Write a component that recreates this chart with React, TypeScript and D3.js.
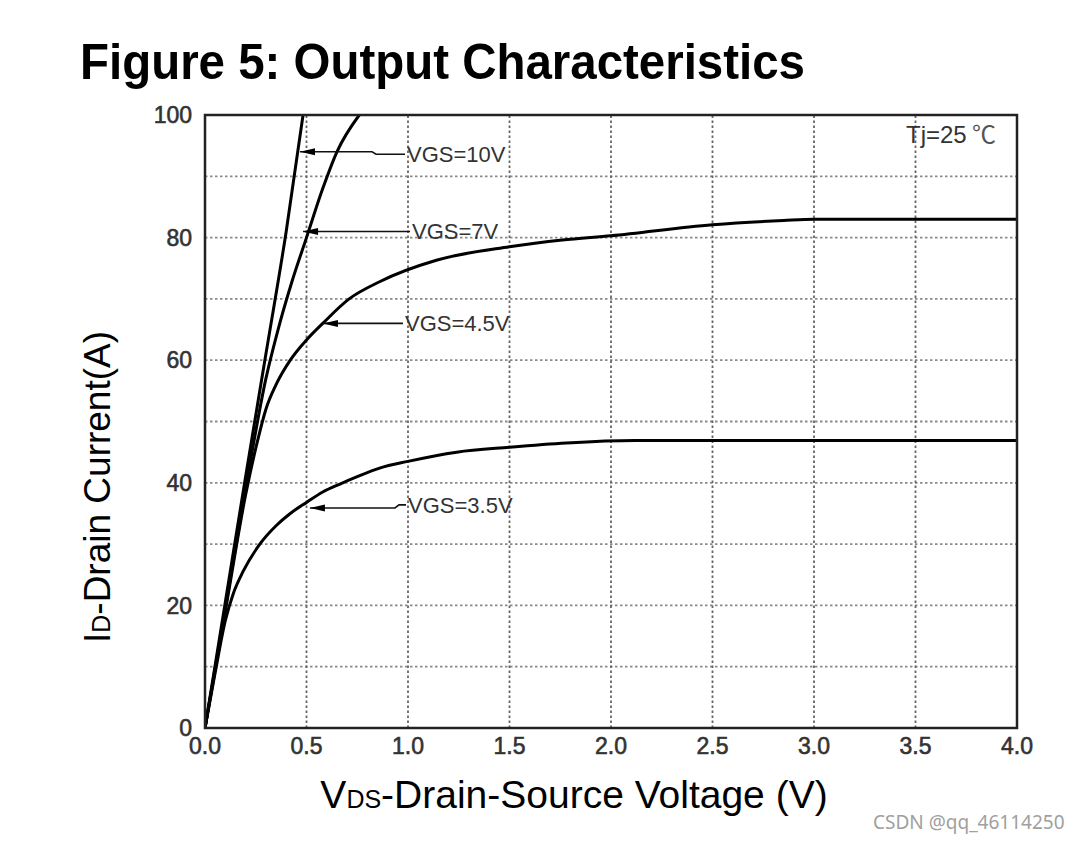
import { useEffect } from "react"
import * as d3 from "d3"

// Drain current (A) vs drain-source voltage (V)
const vgs10V = [0, 0.1, 0.2, 0.3, 0.4, 0.483]
const vgs10I = [0, 20.5, 41, 61, 81, 100]

const vgs7V = [0, 0.1, 0.2, 0.3, 0.36, 0.43, 0.5, 0.58, 0.65, 0.76]
const vgs7I = [0, 19.5, 39, 57, 65, 73, 80, 88, 94, 100]

const vgs45V = [0, 0.1, 0.2, 0.26, 0.3, 0.35, 0.42, 0.5, 0.58, 0.71, 0.86, 1.14, 1.5, 1.76, 2.0, 2.5, 2.85, 3.0, 4.0]
const vgs45I = [0, 19, 38, 47, 52, 56, 60, 63.3, 66, 70, 72.8, 76.3, 78.5, 79.6, 80.3, 82.1, 82.8, 83, 83]

const vgs35V = [0, 0.05, 0.1, 0.14, 0.187, 0.27, 0.35, 0.42, 0.5, 0.58, 0.665, 0.75, 0.86, 1.0, 1.24, 1.5, 1.78, 2.12, 4.0]
const vgs35I = [0, 9, 17.5, 22, 25.5, 30, 33, 35, 36.8, 38.5, 39.8, 41, 42.4, 43.5, 45, 45.8, 46.5, 46.9, 46.9]

const xTicks = [0, 0.5, 1.0, 1.5, 2.0, 2.5, 3.0, 3.5, 4.0]
const yTicks = [0, 20, 40, 60, 80, 100]
const yGrid = [10, 20, 30, 40, 50, 60, 70, 80, 90]

// label: [text, arrow tip V, arrow tip I, kink V, text V, text I]
const labels: [string, number, number, number, number, number][] = [
  ["VGS=10V", 0.468, 94, 0.823, 0.995, 93.6],
  ["VGS=7V", 0.483, 81, 0.78, 1.02, 81],
  ["VGS=4.5V", 0.581, 66, 0.8, 0.985, 66],
  ["VGS=3.5V", 0.517, 35.9, 0.936, 1.0, 36.4],
]

const W = 1080
const H = 843
const margin = { left: 205, right: 63, top: 115, bottom: 115 }

export default function App() {
  useEffect(() => {
    document.body.style.margin = "0"
  }, [])

  const x = d3.scaleLinear().domain([0, 4]).range([margin.left, W - margin.right])
  const y = d3.scaleLinear().domain([0, 100]).range([H - margin.bottom, margin.top])

  const line = d3
    .line<[number, number]>()
    .x((d) => x(d[0]))
    .y((d) => y(d[1]))
    .curve(d3.curveMonotoneX)

  const series = [
    [vgs10V, vgs10I],
    [vgs7V, vgs7I],
    [vgs45V, vgs45I],
    [vgs35V, vgs35I],
  ].map(([vs, is]) => vs.map((v, i) => [v, is[i]] as [number, number]))

  const font = "'Liberation Sans', Arial, Helvetica, sans-serif"

  return (
    <svg width={W} height={H} style={{ display: "block", background: "#fff" }} fontFamily={font}>
      <defs>
        <clipPath id="plot">
          <rect x={x(0)} y={y(100)} width={x(4) - x(0)} height={y(0) - y(100)} />
        </clipPath>
      </defs>

      <text x={80} y={79} fontSize={50} fontWeight="bold" textLength={725} lengthAdjust="spacingAndGlyphs">
        Figure 5: Output Characteristics
      </text>

      {/* grid */}
      {yGrid.map((t) => (
        <line key={"gy" + t} x1={x(0)} x2={x(4)} y1={y(t)} y2={y(t)} stroke="#8a8a8a" strokeWidth={1.8} strokeDasharray="2.5,2.5" />
      ))}
      {xTicks.slice(1, -1).map((t) => (
        <line key={"gx" + t} x1={x(t)} x2={x(t)} y1={y(0)} y2={y(100)} stroke="#666" strokeWidth={1.8} strokeDasharray="2.5,2.5" />
      ))}

      {/* curves */}
      <g clipPath="url(#plot)">
        {series.map((s, i) => (
          <path key={i} d={line(s) || ""} fill="none" stroke="#000" strokeWidth={3} strokeLinejoin="round" />
        ))}
      </g>

      {/* frame */}
      <rect x={x(0)} y={y(100)} width={x(4) - x(0)} height={y(0) - y(100)} fill="none" stroke="#222" strokeWidth={2.5} />

      {/* annotations */}
      {labels.map(([txt, tv, ti, kv, lv, li]) => {
        const tx = x(tv)
        const ty = y(ti)
        const lx = x(lv)
        const ly = y(li)
        const kx = x(kv)
        return (
          <g key={txt}>
            <path d={`M${tx},${ty}L${kx},${ty}L${kx + 4},${ly}L${lx - 2},${ly}`} fill="none" stroke="#111" strokeWidth={1.6} />
            <path d={`M${tx},${ty}L${tx + 15},${ty - 3.5}L${tx + 15},${ty + 3.5}Z`} fill="#000" />
            <text x={lx} y={ly} dy="0.36em" fontSize={22} fill="#333">
              {txt}
            </text>
          </g>
        )
      })}

      <text x={906} y={143} fontSize={24} fill="#333">
        Tj=25
      </text>
      <text x={972} y={143} fontSize={24} fill="#555" fontFamily="'Noto Sans CJK SC', sans-serif">
        ℃
      </text>

      {/* y ticks */}
      {yTicks.map((t) => (
        <text key={"yt" + t} x={192} y={y(t)} dy="0.36em" textAnchor="end" fontSize={23} fill="#333" stroke="#333" strokeWidth={0.6}>
          {t}
        </text>
      ))}
      {/* x ticks */}
      {xTicks.map((t) => (
        <text key={"xt" + t} x={x(t)} y={y(0) + 18} dy="0.36em" textAnchor="middle" fontSize={23} fill="#333" stroke="#333" strokeWidth={0.6}>
          {t.toFixed(1)}
        </text>
      ))}

      {/* axis titles */}
      <text transform={`translate(110,487) rotate(-90)`} textAnchor="middle" fontSize={37} fill="#000">
        I<tspan fontSize={25}>D</tspan>-Drain Current(A)
      </text>
      <text x={574} y={808} textAnchor="middle" fontSize={39} fill="#000">
        V<tspan fontSize={25}>DS</tspan>-Drain-Source Voltage (V)
      </text>

      <text x={873} y={829} fontSize={19} fill="#a0a0a0" fontFamily="'Noto Sans', sans-serif">
        CSDN @qq_46114250
      </text>
    </svg>
  )
}
